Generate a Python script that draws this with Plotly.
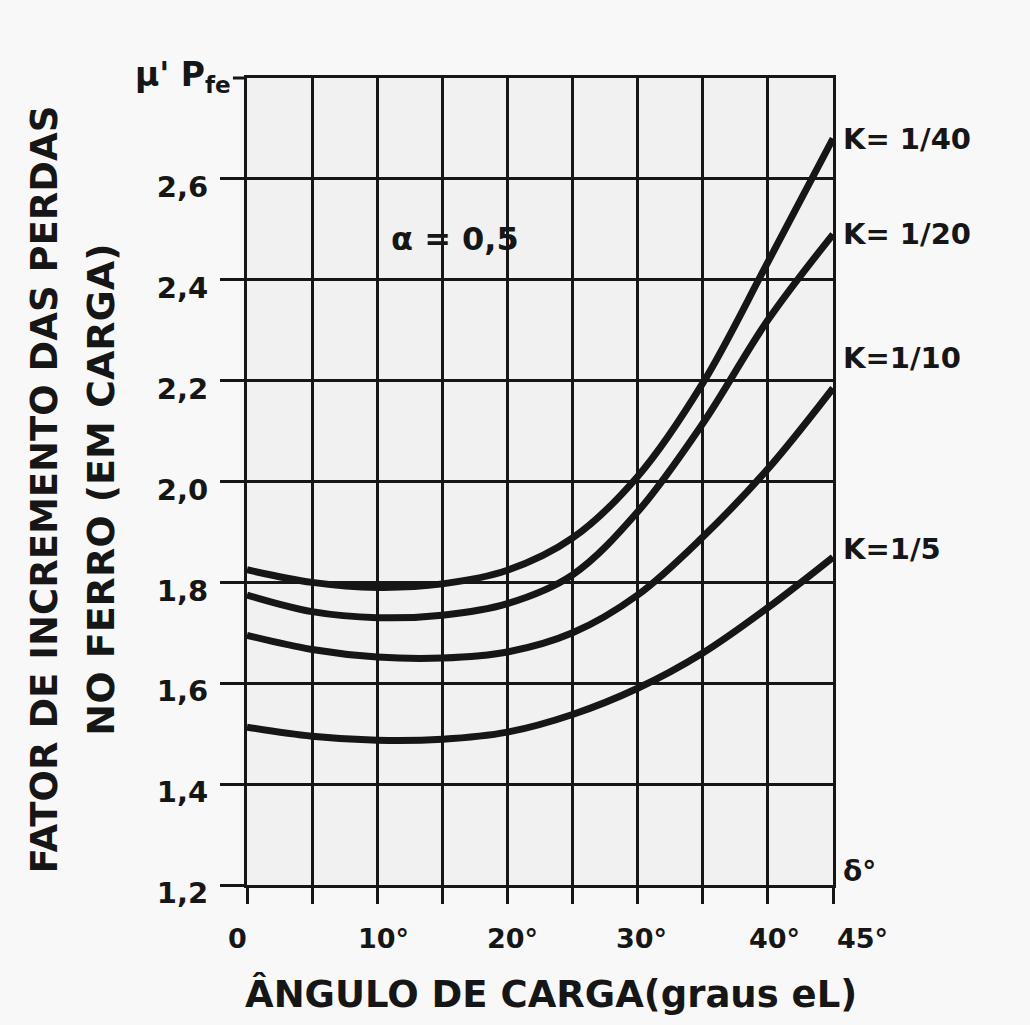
import plotly.graph_objects as go

# Load angle (electrical degrees)
angles = [0, 5, 10, 15, 20, 25, 30, 35, 40, 45]

# Iron-loss increase factor under load, one curve per K
k_1_40 = [1.825, 1.800, 1.790, 1.797, 1.824, 1.888, 2.010, 2.195, 2.435, 2.68]
k_1_20 = [1.775, 1.742, 1.730, 1.735, 1.758, 1.815, 1.940, 2.115, 2.32, 2.49]
k_1_10 = [1.695, 1.667, 1.652, 1.650, 1.662, 1.700, 1.775, 1.890, 2.025, 2.185]
k_1_5 = [1.513, 1.495, 1.487, 1.489, 1.503, 1.538, 1.590, 1.660, 1.750, 1.85]

series = [
    ("K= 1/40", k_1_40),
    ("K= 1/20", k_1_20),
    ("K=1/10", k_1_10),
    ("K=1/5", k_1_5),
]
label_yshift = {"K= 1/40": 0, "K= 1/20": 0, "K=1/10": 30, "K=1/5": 8}

y_tick_vals = [1.2, 1.4, 1.6, 1.8, 2.0, 2.2, 2.4, 2.6]
y_tick_text = ["1,2", "1,4", "1,6", "1,8", "2,0", "2,2", "2,4", "2,6"]
x_tick_vals = [0, 5, 10, 15, 20, 25, 30, 35, 40, 45]
x_label_vals = [0, 10, 20, 30, 40, 45]
x_label_text = ["0", "10°", "20°", "30°", "40°", "45°"]
x_label_shift = [-10, 6, 5, 4, 7, 29]

INK = "#161616"
FONT = "DejaVu Sans"

fig = go.Figure()
for name, vals in series:
    fig.add_trace(go.Scatter(
        x=angles, y=vals, mode="lines", name=name,
        line=dict(color=INK, width=7, shape="spline", smoothing=1.0),
        showlegend=False, hoverinfo="skip",
    ))

# curve labels at the right-hand border
for name, vals in series:
    fig.add_annotation(
        x=45, y=vals[-1], xref="x", yref="y", text=name, showarrow=False,
        xanchor="left", yanchor="middle", xshift=8, yshift=label_yshift[name],
        font=dict(family=FONT, size=29, color=INK, weight="bold"),
    )

# x tick labels
for v, t, s in zip(x_label_vals, x_label_text, x_label_shift):
    fig.add_annotation(
        x=v, y=1.2, xref="x", yref="y", text=t, showarrow=False,
        xanchor="center", yanchor="top", xshift=s, yshift=-36,
        font=dict(family=FONT, size=27, color=INK, weight="bold"),
    )

fig.add_annotation(x=16, y=2.48, xref="x", yref="y", text="α = 0,5", showarrow=False,
                   font=dict(family=FONT, size=32, color=INK, weight="bold"))
fig.add_annotation(x=0, y=2.8, xref="x", yref="y", text="μ' P<sub>fe</sub>", showarrow=False,
                   xanchor="right", yanchor="middle", xshift=-14, yshift=2,
                   font=dict(family=FONT, size=33, color=INK, weight="bold"))
fig.add_annotation(x=45, y=1.2, xref="x", yref="y", text="δ°", showarrow=False,
                   xanchor="left", yanchor="middle", xshift=8, yshift=14,
                   font=dict(family=FONT, size=28, color=INK, weight="bold"))

# axis titles
fig.add_annotation(
    x=-0.385, y=0.49, xref="paper", yref="paper",
    text="FATOR DE INCREMENTO DAS PERDAS", textangle=-90, showarrow=False,
    font=dict(family=FONT, size=37, color=INK, weight="bold"),
)
fig.add_annotation(
    x=-0.29, y=0.49, xref="paper", yref="paper",
    text="NO FERRO (EM CARGA)", textangle=-90, showarrow=False,
    font=dict(family=FONT, size=38, color=INK, weight="bold"),
)
fig.add_annotation(
    x=0.518, y=-0.135, xref="paper", yref="paper",
    text="ÂNGULO DE CARGA(graus eL)", showarrow=False, yanchor="middle",
    font=dict(family=FONT, size=37, color=INK, weight="bold"),
)

fig.update_layout(
    width=1030, height=1025,
    margin=dict(l=247, r=197, t=78, b=140),
    paper_bgcolor="#f8f8f8",
    plot_bgcolor="#f1f1f1",
    font=dict(family=FONT, color=INK),
    # short stub of the top border reaching left to the quantity symbol
    shapes=[dict(type="line", xref="paper", yref="paper", x0=-0.024, x1=0, y0=1, y1=1,
                 line=dict(color=INK, width=3))],
)

fig.update_xaxes(
    range=[0, 45], tickvals=x_tick_vals, showticklabels=False,
    ticks="outside", ticklen=16, tickwidth=3, tickcolor=INK,
    showgrid=True, gridcolor=INK, gridwidth=3,
    showline=True, linecolor=INK, linewidth=3, mirror=True,
    zeroline=False, fixedrange=True,
)
fig.update_yaxes(
    range=[1.2, 2.8], tickvals=y_tick_vals, ticktext=y_tick_text,
    ticks="outside", ticklen=24, tickwidth=3, tickcolor=INK,
    ticklabelstandoff=6, ticklabelshift=8,
    tickfont=dict(family=FONT, size=29, color=INK, weight="bold"),
    showgrid=True, gridcolor=INK, gridwidth=3,
    showline=True, linecolor=INK, linewidth=3, mirror=True,
    zeroline=False, fixedrange=True,
)

fig.write_html("out.html")
